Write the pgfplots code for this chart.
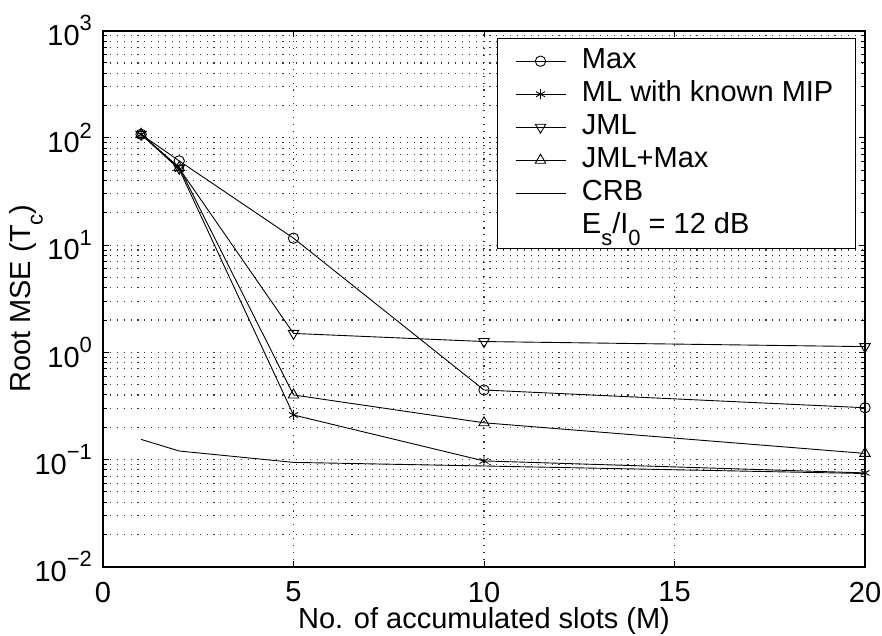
\documentclass[border=0pt]{standalone}
\usepackage{pgfplots}
\pgfplotsset{compat=1.18}
\usepackage{fontspec}
\setmainfont{Liberation Sans}
\newcommand\msup[1]{\raisebox{0.5em}{\fontsize{11}{11}\selectfont #1}}
\newcommand\msub[1]{\raisebox{-0.42em}{\fontsize{11}{11}\selectfont #1}}

\pgfplotstableread{
x y
1 108
2 61
5 11.6
10 0.445
20 0.304
}\maxdata
\pgfplotstableread{
x y
1 108
2 51
5 0.26
10 0.097
20 0.075
}\mldata
\pgfplotstableread{
x y
1 108
2 52
5 1.5
10 1.26
20 1.13
}\jmldata
\pgfplotstableread{
x y
1 108
2 53
5 0.40
10 0.22
20 0.114
}\jmlmaxdata
\pgfplotstableread{
x y
1 0.154
2 0.12
5 0.094
10 0.087
20 0.074
}\crbdata

\begin{document}
\begin{tikzpicture}[font=\fontsize{14.5}{17}\selectfont]
\begin{semilogyaxis}[
    scale only axis,
    width=381pt, height=268pt,
    xmin=0, xmax=20, ymin=1e-2, ymax=1e3,
    xtick={0,5,10,15,20},
    ytick={1e-2,1e-1,1e0,1e1,1e2,1e3},
    yticklabels={10\msup{−2},10\msup{−1},10\msup{0},10\msup{1},10\msup{2},10\msup{3}},
    xticklabel style={/pgf/number format/assume math mode=true, yshift=-4pt},
    yticklabel style={xshift=-2pt},
    grid=both,
    major grid style={black!80, line width=0.55pt, dash pattern=on 0.55pt off 2.9pt},
    minor grid style={black!80, line width=0.55pt, dash pattern=on 0.55pt off 2.9pt},
    axis line style={line width=0.9pt},
    tick style={black, line width=0.5pt},
    major tick length=3pt, minor tick length=2pt,
    xlabel={No. of accumulated slots (M)},
    ylabel={Root MSE (T\msub{c})},
    xlabel style={yshift=4.5pt},
    ylabel style={yshift=-11pt},
    legend style={at={(0.988,0.986)}, anchor=north east,
        draw=black, line width=0.5pt, inner xsep=9pt, inner ysep=3pt,
        row sep=0pt, column sep=6pt,
        nodes={text height=11pt, text depth=3.5pt, inner ysep=1pt, inner xsep=2pt, anchor=west}},
    legend cell align=left,
    legend image code/.code={\draw[mark repeat=2, mark phase=2, #1] plot coordinates {(0pt,0pt) (12.5pt,0pt) (25pt,0pt)};},
]
\addplot[black, line width=0.45pt, mark=o, mark size=2.6pt] table[x=x, y=y] {\maxdata};
\addlegendentry{Max}
\addplot[black, line width=0.45pt, mark=asterisk, mark size=2.6pt] table[x=x, y=y] {\mldata};
\addlegendentry{ML with known MIP}
\addplot[black, line width=0.45pt, mark=triangle, mark size=3pt, mark options={rotate=180}] table[x=x, y=y] {\jmldata};
\addlegendentry{JML}
\addplot[black, line width=0.45pt, mark=triangle, mark size=3pt] table[x=x, y=y] {\jmlmaxdata};
\addlegendentry{JML+Max}
\addplot[black, line width=0.45pt] table[x=x, y=y] {\crbdata};
\addlegendentry{CRB}
\addlegendimage{empty legend}
\addlegendentry{E\msub{s}/I\msub{0} = 12 dB}
\end{semilogyaxis}
\pgfresetboundingbox
\path[use as bounding box] ([shift={(-51.5pt,-34.65pt)}]current axis.south west) rectangle ([shift={(8.5pt,15.35pt)}]current axis.north east);
\end{tikzpicture}
\end{document}
